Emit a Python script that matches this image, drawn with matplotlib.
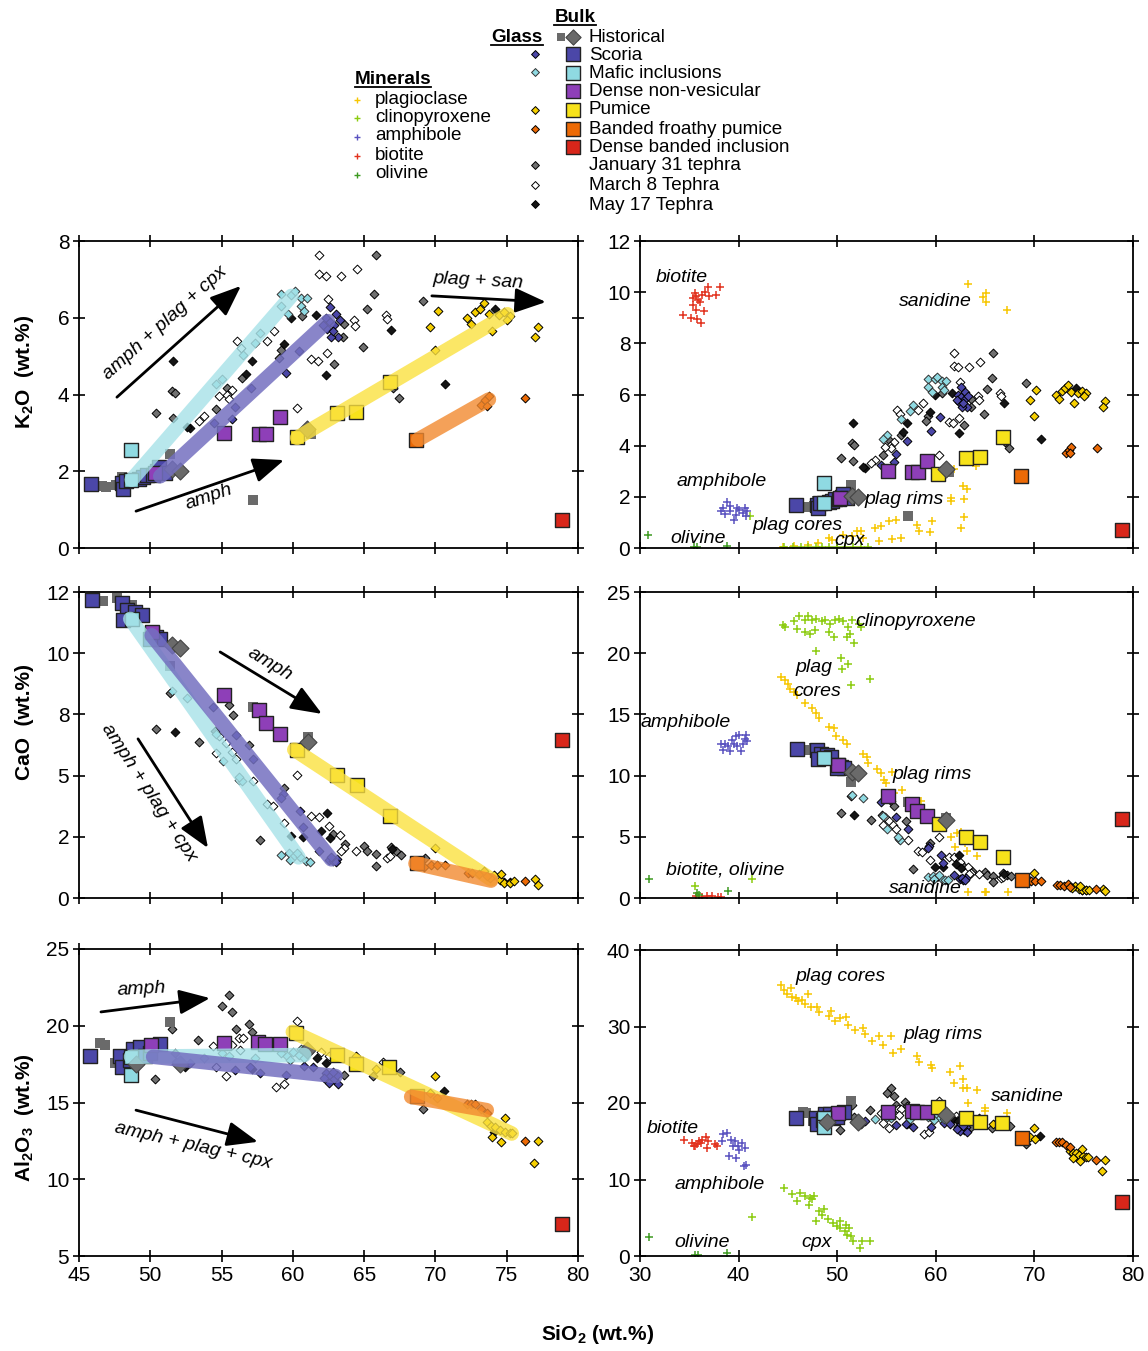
import matplotlib
matplotlib.use('Agg')
import matplotlib.pyplot as plt

plt.rcParams['font.family'] = ['Liberation Sans', 'DejaVu Sans']
plt.rcParams['mathtext.fontset'] = 'custom'
plt.rcParams['mathtext.rm'] = 'Liberation Sans'
plt.rcParams['mathtext.bf'] = 'Liberation Sans:bold'
plt.rcParams['mathtext.it'] = 'Liberation Sans:italic'

# ---------------- K2O data (SiO2, K2O) ----------------
k_scoria = [(45.87,1.67),(48.0,1.7),(48.06,1.55),(48.3,1.75),(49.2,1.8),(49.5,1.85),(49.8,1.9),(50.2,1.9),(50.5,2.0),(50.6,2.1),(51.0,1.95)]
k_mafic = [(48.65,2.56),(48.65,1.76)]
k_dense = [(50.3,1.95),(55.2,3.0),(57.6,2.96),(58.15,2.96),(59.1,3.41)]
k_pumice = [(60.27,2.9),(63.1,3.52),(64.46,3.55),(66.8,4.32)]
k_banded = [(68.65,2.82)]
k_dbi = [(78.88,0.72)]
k_hist_sq = [(46.6,1.62),(46.9,1.6),(47.6,1.65),(48.0,1.85),(51.35,2.45),(57.2,1.26),(61.3,2.96)]
k_hist_di = [(51.5,2.05),(52.1,2.0),(61.0,3.1)]
k_gl_scoria = [(60.46,5.13),(59.5,4.57),(57.05,4.17),(55.94,3.68),(55.75,3.37),(54.46,3.26),(62.58,6.28),(62.3,6.0),(62.6,5.9),(62.9,5.8),(63.0,6.1),(62.4,5.7),(63.2,5.5),(62.7,5.5),(62.1,5.8),(63.3,5.95),(62.8,5.65)]
k_gl_mafic = [(59.2,6.61),(59.9,6.6),(60.15,6.7),(60.6,6.52),(61.0,6.52),(60.6,6.3),(59.65,6.09),(60.8,6.17),(59.2,6.3),(57.7,5.6),(57.35,5.35),(56.5,5.04),(55.05,4.4),(54.6,4.28)]
k_gl_pumice = [(70.15,6.17),(69.6,5.77),(70.0,5.17),(72.2,6.0),(72.5,5.83),(72.8,6.15),(73.15,6.24),(73.4,6.39),(73.75,6.09),(74.0,5.65),(74.45,6.06),(74.8,6.15),(75.2,6.04),(75.0,5.95),(77.2,5.76),(76.95,5.5)]
k_gl_banded = [(73.2,3.72),(73.5,3.85),(73.75,3.96),(73.6,3.7),(76.3,3.9)]
k_gl_jan31 = [(65.8,7.63),(65.7,6.63),(65.2,6.23),(63.6,5.84),(63.55,5.5),(62.9,4.8),(64.9,5.23),(69.15,6.43),(67.0,4.16),(67.45,3.91),(60.65,6.04),(59.2,5.17),(59.05,4.96),(55.4,4.17),(54.6,3.63),(51.5,4.1),(51.75,4.04),(50.4,3.52),(51.56,3.39),(56.46,4.43)]
k_gl_mar8 = [(61.8,7.63),(61.8,7.13),(62.3,7.09),(63.35,7.09),(64.5,7.26),(62.45,6.48),(64.3,5.94),(64.35,5.78),(66.5,6.06),(66.6,5.96),(62.4,5.09),(61.3,4.93),(61.75,4.87),(60.3,3.65),(58.7,5.65),(58.2,5.39),(56.1,5.39),(56.35,5.22),(55.76,4.13),(55.4,4.0),(55.5,3.89),(53.8,3.45),(53.4,3.32),(54.84,3.95)]
k_gl_may17 = [(51.6,4.87),(57.1,4.87),(56.7,4.54),(52.8,3.13),(52.6,3.15),(59.4,5.32),(61.6,6.07),(59.9,6.0),(62.35,4.5),(66.9,5.68),(70.7,4.28),(74.2,6.24)]
k_band_mafic = [(48.7,1.78),(59.9,6.57)]
k_band_scoria = [(50.7,1.87),(62.46,5.91)]
k_band_pumice = [(60.3,2.87),(75.05,6.09)]
k_band_banded = [(68.8,2.83),(73.75,3.87)]
k_min_plag = [(44.5,0.04),(45.6,0.07),(47.0,0.13),(48.1,0.2),(49.2,0.39),(49.5,0.33),(50.6,0.52),(51.5,0.46),(52.0,0.65),(52.4,0.65),(52.6,0.39),(53.8,0.78),(54.4,0.85),(55.3,1.04),(56.0,1.1),(54.2,0.29),(55.55,0.36),(56.5,0.39),(58.1,0.89),(58.3,0.65),(59.4,0.61),(59.6,1.07),(61.5,1.95),(61.5,1.82),(61.8,3.09),(62.8,2.41),(63.2,2.32),(62.9,1.92),(62.9,1.2),(62.55,0.8),(64.1,3.19),(63.3,10.3),(64.8,9.8),(65.05,9.97),(65.05,9.6),(67.2,9.29)]
k_min_cpx = [(41.2,1.26),(44.6,0.03),(45.5,0.05),(46.3,0.02),(47.0,0.04),(47.8,0.03),(48.5,0.05),(49.2,0.02),(50.0,0.04),(50.8,0.03),(51.6,0.05),(52.4,0.02),(53.1,0.04)]
k_min_amph = [(38.85,1.78),(38.25,1.43),(38.6,1.33),(39.1,1.43),(39.7,1.3),(40.05,1.5),(40.4,1.37),(40.75,1.24),(39.5,1.1),(39.85,1.56),(39.1,1.63),(40.6,1.56),(38.4,1.56),(40.9,1.43)]
k_min_bio = [(34.4,9.1),(35.2,9.0),(35.8,8.96),(36.2,8.8),(35.55,9.97),(35.9,9.7),(36.3,9.9),(36.6,10.0),(36.9,10.2),(37.7,9.9),(38.1,10.2),(35.4,9.5),(35.7,9.3),(36.45,9.25),(36.1,9.6),(37.0,9.84),(35.4,9.77),(35.7,9.84)]
k_min_ol = [(30.8,0.52),(35.5,0.05),(35.8,0.05),(38.8,0.07)]

# ---------------- CaO data (SiO2, CaO) ----------------
c_scoria = [(45.94,12.19),(48.0,12.06),(48.4,11.76),(48.95,11.69),(49.4,11.56),(48.1,11.35),(50.1,10.83),(50.4,10.68),(50.7,10.6),(50.0,10.6)]
c_mafic = [(48.7,11.4)]
c_dense = [(50.1,10.88),(55.2,8.3),(57.6,7.67),(58.1,7.13),(59.1,6.68)]
c_pumice = [(60.3,6.06),(63.1,5.02),(64.5,4.61),(66.8,3.35)]
c_banded = [(68.7,1.45)]
c_dbi = [(78.9,6.44)]
c_hist_sq = [(46.7,12.12),(47.65,12.27),(48.7,11.96),(51.4,9.49),(57.2,7.82),(61.07,6.56)]
c_hist_di = [(51.5,10.33),(52.06,10.2),(61.07,6.38)]
c_gl_scoria = [(62.5,1.56),(62.8,1.51),(63.1,1.61),(62.7,1.67),(63.0,1.46),(59.3,4.23),(59.2,4.1),(60.7,2.88),(60.5,3.55),(57.2,5.66),(56.0,6.65),(54.4,7.82),(61.85,1.9)]
c_gl_mafic = [(59.2,1.74),(59.7,1.82),(60.1,1.73),(60.5,1.67),(60.9,1.51),(61.2,1.46),(59.8,1.56),(60.3,1.85),(56.4,4.77),(55.07,5.61),(52.6,8.17),(51.5,8.44),(54.6,6.68),(56.2,4.95)]
c_gl_pumice = [(70.0,2.06),(74.1,0.94),(74.5,0.73),(74.8,0.63),(75.2,0.63),(75.5,0.68),(73.8,0.83),(77.0,0.77),(77.2,0.54),(74.6,1.0)]
c_gl_banded = [(69.2,1.25),(69.7,1.35),(70.1,1.35),(70.7,1.35),(72.25,1.04),(72.6,1.04),(73.05,0.98),(73.4,1.11),(73.65,0.91),(76.25,0.71)]
c_gl_jan31 = [(51.4,8.36),(50.4,6.92),(53.4,6.37),(55.5,7.9),(55.8,7.49),(54.55,6.81),(56.95,6.27),(59.4,4.48),(57.7,2.36),(65.0,2.13),(65.2,1.9),(65.8,1.79),(65.85,1.3),(66.85,2.08),(67.2,1.9),(67.6,1.76),(69.3,1.63),(63.65,2.2),(62.8,2.6)]
c_gl_mar8 = [(54.8,6.6),(55.3,6.33),(55.7,5.97),(54.6,5.93),(56.0,5.66),(56.25,4.8),(57.2,4.77),(60.3,5.02),(58.2,3.82),(58.6,3.75),(59.4,3.08),(61.3,3.35),(61.8,3.31),(62.5,2.95),(63.3,2.57),(64.4,1.93),(66.6,1.63),(66.8,1.72),(63.6,2.06),(63.4,1.93)]
c_gl_may17 = [(51.7,6.78),(59.9,2.53),(60.7,2.5),(62.0,2.74),(62.4,3.49),(62.6,2.47),(66.95,1.99),(74.8,0.64),(75.2,0.64)]
c_band_mafic = [(48.6,11.4),(60.4,1.66)]
c_band_scoria = [(50.1,10.73),(62.7,1.58)]
c_band_pumice = [(60.1,6.06),(73.9,0.77)]
c_band_banded = [(68.6,1.41),(73.9,0.71)]
c_min_plag = [(44.3,18.07),(44.7,17.8),(45.05,17.5),(45.2,17.1),(45.6,16.85),(45.95,16.6),(46.7,15.9),(47.4,15.5),(47.9,15.1),(48.2,14.7),(49.2,14.0),(49.7,13.9),(49.9,13.2),(50.6,12.9),(50.95,12.6),(52.6,11.8),(53.0,11.5),(53.1,11.0),(54.0,10.5),(54.4,10.2),(54.7,9.65),(54.95,9.4),(55.6,10.3),(55.8,8.56),(56.6,8.8),(58.1,7.9),(58.3,7.2),(58.5,7.9),(59.6,6.4),(61.5,5.0),(61.9,4.2),(62.6,5.4),(62.95,4.5),(63.15,3.8),(64.2,3.45),(62.1,5.3),(63.3,0.46),(65.0,0.46),(65.1,0.46),(67.3,0.46)]
c_min_cpx = [(44.5,22.3),(44.7,22.1),(45.6,22.6),(46.1,23.0),(46.7,22.7),(47.0,23.0),(47.4,22.7),(47.9,22.8),(48.5,22.6),(48.8,22.7),(49.3,22.4),(49.8,22.7),(50.2,22.8),(50.6,22.6),(51.1,22.1),(51.5,22.7),(52.2,22.4),(52.4,22.1),(45.95,22.0),(46.7,21.7),(47.2,21.6),(47.7,21.9),(49.2,21.7),(49.7,21.3),(51.0,21.3),(51.3,21.6),(51.7,20.8),(47.8,20.2),(50.4,19.6),(50.5,18.75),(51.1,19.1),(51.4,17.4),(53.3,17.9),(35.55,0.95),(41.4,1.55)]
c_min_amph = [(38.2,12.6),(38.4,12.1),(38.95,12.4),(39.3,12.9),(39.7,13.2),(40.0,13.3),(40.6,13.0),(40.75,13.3),(40.9,12.8),(39.85,12.4),(40.2,12.0),(39.1,12.0),(39.5,12.6),(38.6,12.6),(40.4,12.6)]
c_min_bio = [(35.7,0.14),(36.3,0.08),(36.8,0.14),(37.35,0.14),(37.9,0.1),(38.2,0.1)]
c_min_ol = [(30.9,1.55),(35.8,0.4),(36.0,0.27),(38.9,0.6)]

# ---------------- Al2O3 data (SiO2, Al2O3) ----------------
a_scoria = [(45.8,18.0),(47.9,18.0),(48.0,17.3),(48.6,17.8),(48.8,18.5),(49.3,18.6),(49.6,18.0),(50.0,18.2),(50.7,18.8)]
a_mafic = [(48.65,17.98),(48.65,16.8)]
a_dense = [(50.06,18.74),(55.2,18.85),(57.55,18.96),(58.06,18.78),(59.1,18.78)]
a_pumice = [(60.25,19.5),(63.1,18.1),(64.46,17.54),(66.76,17.33)]
a_banded = [(68.7,15.4)]
a_dbi = [(78.9,7.07)]
a_hist_sq = [(46.5,18.85),(46.8,18.74),(47.5,17.6),(51.35,20.26)]
a_hist_di = [(49.0,17.5),(52.06,17.5),(61.0,18.4)]
a_gl_scoria = [(62.3,16.9),(62.6,16.7),(62.9,16.5),(63.1,16.8),(62.5,16.3),(62.8,17.0),(63.2,16.2),(62.2,16.6),(57.0,17.3),(57.7,16.9),(59.5,16.8),(60.8,17.4),(61.4,17.3),(55.95,17.1),(52.8,17.6)]
a_gl_mafic = [(59.2,18.2),(59.6,18.0),(60.0,18.3),(60.4,18.1),(60.8,17.9),(61.1,18.3),(59.8,17.8),(60.6,18.5),(55.0,18.2),(55.5,18.0),(57.35,17.9),(53.8,17.9)]
a_gl_pumice = [(64.4,18.0),(65.8,17.2),(69.6,15.6),(70.1,15.3),(70.0,16.7),(73.6,13.7),(73.9,13.5),(74.2,13.4),(74.5,13.2),(74.9,13.1),(75.2,13.0),(75.4,13.0),(74.85,14.0),(73.95,12.76),(74.6,12.4),(77.2,12.5),(76.9,11.07)]
a_gl_banded = [(72.2,14.9),(72.5,14.9),(72.8,14.87),(73.2,14.57),(73.6,14.3),(76.25,12.5)]
a_gl_jan31 = [(55.5,22.0),(55.0,21.3),(55.75,20.9),(56.9,20.1),(51.5,19.76),(56.0,19.76),(57.1,19.57),(53.35,19.1),(50.3,16.5),(51.8,17.65),(63.6,16.8),(65.65,16.7),(67.5,17.0),(69.1,14.6),(51.7,18.2),(59.2,18.7)]
a_gl_mar8 = [(60.3,20.3),(56.2,19.2),(56.5,19.2),(55.7,18.74),(54.4,18.7),(55.3,16.7),(58.8,16.0),(59.35,16.2),(54.6,17.33),(56.3,18.4),(66.3,17.65),(66.8,17.4),(62.0,18.3),(62.5,18.0)]
a_gl_may17 = [(52.45,17.3),(57.1,17.2),(61.7,17.9),(70.6,15.74),(62.3,17.6),(74.1,13.1)]
a_band_mafic = [(48.65,17.98),(60.8,18.09)]
a_band_scoria = [(50.2,17.98),(63.0,16.72)]
a_band_pumice = [(60.0,19.6),(75.35,12.98)]
a_band_banded = [(68.3,15.37),(73.6,14.5)]
a_min_plag = [(44.3,35.4),(44.6,34.8),(44.9,34.3),(45.3,35.0),(45.4,33.9),(45.8,33.7),(46.0,33.3),(46.4,33.5),(46.7,33.0),(47.0,34.3),(47.35,32.5),(48.0,32.6),(48.2,31.9),(49.2,31.4),(49.4,32.0),(49.8,30.7),(50.3,31.1),(50.9,31.2),(51.1,30.2),(51.8,29.6),(52.65,29.8),(52.8,29.0),(53.5,28.1),(54.2,28.8),(54.6,27.6),(55.5,28.7),(55.7,26.5),(56.5,27.0),(58.1,26.1),(58.3,25.4),(59.5,25.0),(59.65,24.6),(61.4,24.1),(61.85,22.6),(62.5,24.8),(62.8,23.1),(62.8,22.0),(63.2,22.0),(64.2,21.65),(63.3,20.0),(65.0,19.35),(65.0,18.9),(67.25,18.7)]
a_min_cpx = [(44.6,8.9),(45.4,8.1),(45.9,7.2),(46.2,8.26),(46.7,7.8),(47.2,7.6),(47.45,7.4),(47.6,7.8),(47.1,6.7),(47.9,4.6),(48.2,5.9),(48.5,5.4),(49.1,4.8),(49.6,4.35),(50.0,3.9),(50.3,3.7),(50.75,3.26),(51.2,3.7),(51.4,2.6),(51.6,1.96),(52.3,1.1),(52.5,1.96),(53.3,1.96),(50.3,4.6),(50.9,4.1),(51.0,2.8),(48.7,6.1),(41.4,5.1)]
a_min_amph = [(38.4,15.9),(38.85,16.1),(38.3,15.0),(39.2,15.2),(39.6,15.0),(39.9,14.35),(40.3,14.8),(40.6,14.1),(39.0,13.1),(39.75,12.8),(40.5,11.7),(40.8,11.95),(40.0,13.8),(39.4,14.35)]
a_min_bio = [(34.5,15.1),(35.3,14.8),(35.6,14.35),(35.95,15.0),(36.3,15.2),(36.7,15.5),(36.9,15.0),(35.8,14.6),(35.45,14.35),(36.8,14.1),(37.6,14.65),(37.8,14.35),(36.15,14.8)]
a_min_ol = [(30.9,2.5),(35.6,0.13),(35.9,0.13),(38.85,0.43)]

# ---------------- styles ----------------
C_SCORIA = '#4b47a8'
C_MAFIC = '#8fdae2'
C_DENSE = '#8e3fb8'
C_PUMICE = '#f7e21a'
C_BANDED = '#ec6a06'
C_DBI = '#d8261a'
C_HIST = '#6a6a6a'
C_GL_PUMICE = '#f6cf00'
C_PLAG = '#f7c600'
C_CPX = '#8ccc10'
C_AMPH = '#5a52c0'
C_BIO = '#e2321e'
C_OL = '#3d9a20'

fig = plt.figure(figsize=(11.48, 13.51), dpi=100)
W, H = 1148.0, 1351.0

def ax_px(x0, y0, x1, y1):
    return fig.add_axes([x0 / W, 1 - y1 / H, (x1 - x0) / W, (y1 - y0) / H])

axK = ax_px(79, 241, 578, 548)
axC = ax_px(79, 592, 578, 898)
axA = ax_px(79, 949, 578, 1256)
axKr = ax_px(640, 241, 1133, 548)
axCr = ax_px(640, 592, 1133, 898)
axAr = ax_px(640, 950, 1133, 1256)

def sc(ax, data, **kw):
    if data:
        xs = [p[0] for p in data]
        ys = [p[1] for p in data]
        ax.scatter(xs, ys, **kw)

def glass(ax, gs, gm, gp, gb, j, m, y):
    kw = dict(marker='D', s=20, linewidths=0.7, edgecolors='black', zorder=3)
    sc(ax, j, c='#707070', **kw)
    sc(ax, m, c='white', **kw)
    sc(ax, y, c='#151515', **kw)
    sc(ax, gs, c=C_SCORIA, **kw)
    sc(ax, gm, c=C_MAFIC, **dict(kw, edgecolors='#333333'))
    sc(ax, gp, c=C_GL_PUMICE, **kw)
    sc(ax, gb, c=C_BANDED, **kw)

def bulk(ax, s, mf, d, p, b, r, hs, hd):
    sc(ax, hs, c=C_HIST, marker='s', s=45, linewidths=0, zorder=4)
    kw = dict(marker='s', s=110, linewidths=1.0, edgecolors='#222222', zorder=5)
    sc(ax, s, c=C_SCORIA, **kw)
    sc(ax, d, c=C_DENSE, **kw)
    sc(ax, mf, c=C_MAFIC, **kw)
    sc(ax, p, c=C_PUMICE, **kw)
    sc(ax, b, c=C_BANDED, **kw)
    sc(ax, r, c=C_DBI, **kw)
    sc(ax, hd, c=C_HIST, marker='D', s=75, linewidths=0.8, edgecolors='#444444', zorder=5)

def bands(ax, bm, bs, bp, bb):
    for data, col, a in [(bm, '#a6e2e8', 0.8), (bs, '#7470c0', 0.85), (bp, '#fbe140', 0.8), (bb, '#f28a30', 0.8)]:
        ax.plot([q[0] for q in data], [q[1] for q in data], color=col, alpha=a, lw=10.5,
                solid_capstyle='round', zorder=6)

def minerals(ax, pl, cp, am, bi, ol):
    kw = dict(marker='+', s=30, linewidths=1.1, zorder=2)
    sc(ax, pl, c=C_PLAG, **kw)
    sc(ax, cp, c=C_CPX, **kw)
    sc(ax, am, c=C_AMPH, **kw)
    sc(ax, bi, c=C_BIO, **kw)
    sc(ax, ol, c=C_OL, **kw)

# K2O
for ax in (axK, axKr):
    glass(ax, k_gl_scoria, k_gl_mafic, k_gl_pumice, k_gl_banded, k_gl_jan31, k_gl_mar8, k_gl_may17)
    bulk(ax, k_scoria, k_mafic, k_dense, k_pumice, k_banded, k_dbi, k_hist_sq, k_hist_di)
bands(axK, k_band_mafic, k_band_scoria, k_band_pumice, k_band_banded)
minerals(axKr, k_min_plag, k_min_cpx, k_min_amph, k_min_bio, k_min_ol)
# CaO
for ax in (axC, axCr):
    glass(ax, c_gl_scoria, c_gl_mafic, c_gl_pumice, c_gl_banded, c_gl_jan31, c_gl_mar8, c_gl_may17)
    bulk(ax, c_scoria, c_mafic, c_dense, c_pumice, c_banded, c_dbi, c_hist_sq, c_hist_di)
bands(axC, c_band_mafic, c_band_scoria, c_band_pumice, c_band_banded)
minerals(axCr, c_min_plag, c_min_cpx, c_min_amph, c_min_bio, c_min_ol)
# Al2O3
for ax in (axA, axAr):
    glass(ax, a_gl_scoria, a_gl_mafic, a_gl_pumice, a_gl_banded, a_gl_jan31, a_gl_mar8, a_gl_may17)
    bulk(ax, a_scoria, a_mafic, a_dense, a_pumice, a_banded, a_dbi, a_hist_sq, a_hist_di)
bands(axA, a_band_mafic, a_band_scoria, a_band_pumice, a_band_banded)
minerals(axAr, a_min_plag, a_min_cpx, a_min_amph, a_min_bio, a_min_ol)

# axes formatting
left_x = [45, 50, 55, 60, 65, 70, 75, 80]
right_x = [30, 40, 50, 60, 70, 80]
for ax in (axK, axC, axA):
    ax.set_xlim(45, 80)
    ax.set_xticks(left_x)
for ax in (axKr, axCr, axAr):
    ax.set_xlim(30, 80)
    ax.set_xticks(right_x)
axK.set_ylim(0, 8); axK.set_yticks([0, 2, 4, 6, 8])
axC.set_ylim(0, 12.5); axC.set_yticks([0, 2.5, 5, 7.5, 10, 12.5])
axC.set_yticklabels(['0', '2', '5', '8', '10', '12'])
axA.set_ylim(5, 25); axA.set_yticks([5, 10, 15, 20, 25])
axKr.set_ylim(0, 12); axKr.set_yticks([0, 2, 4, 6, 8, 10, 12])
axCr.set_ylim(0, 25); axCr.set_yticks([0, 5, 10, 15, 20, 25])
axAr.set_ylim(0, 40); axAr.set_yticks([0, 10, 20, 30, 40])

for ax in (axK, axC, axA, axKr, axCr, axAr):
    ax.tick_params(direction='inout', length=8, width=1.2, top=True, right=True,
                   labelsize=15, pad=3)
    for sp in ax.spines.values():
        sp.set_linewidth(1.3)
    if ax not in (axA, axAr):
        ax.tick_params(labelbottom=False)

# annotations (italic)
ita = dict(fontsize=14, style='italic', ha='center', va='center', zorder=10)
arw = dict(arrowstyle='-|>,head_length=0.95,head_width=0.38', color='black', lw=2,
           mutation_scale=20, shrinkA=0, shrinkB=0)
axK.annotate('', xy=(56.36, 6.83), xytext=(47.66, 3.93), arrowprops=arw, zorder=10)
axK.text(51.03, 5.86, 'amph + plag + cpx', rotation=42, **ita)
axK.annotate('', xy=(77.75, 6.41), xytext=(69.75, 6.57), arrowprops=arw, zorder=10)
axK.text(73.0, 6.95, 'plag + san', rotation=-3, **ita)
axK.annotate('', xy=(59.38, 2.29), xytext=(49.0, 0.96), arrowprops=arw, zorder=10)
axK.text(54.1, 1.33, 'amph', rotation=19, **ita)

axC.annotate('', xy=(62.04, 7.52), xytext=(54.9, 10.05), arrowprops=arw, zorder=10)
axC.text(58.4, 9.56, 'amph', rotation=-31, **ita)
axC.annotate('', xy=(54.05, 2.04), xytext=(49.14, 6.5), arrowprops=arw, zorder=10)
axC.text(49.9, 4.3, 'amph + plag + cpx', rotation=-57, **ita)

axA.annotate('', xy=(54.19, 21.8), xytext=(46.54, 20.9), arrowprops=arw, zorder=10)
axA.text(49.4, 22.4, 'amph', rotation=3, **ita)
axA.annotate('', xy=(57.55, 12.44), xytext=(49.0, 14.5), arrowprops=arw, zorder=10)
axA.text(53.0, 12.2, 'amph + plag + cpx', rotation=-13, **ita)

for ax, items in [
    (axKr, [(34.26, 10.59, 'biotite'), (60.0, 9.65, 'sanidine'), (38.3, 2.58, 'amphibole'),
            (56.8, 1.91, 'plag rims'), (46.0, 0.86, 'plag cores'), (35.9, 0.39, 'olivine'),
            (51.3, 0.31, 'cpx')]),
    (axCr, [(58.0, 22.55, 'clinopyroxene'), (47.6, 18.8, 'plag'), (48.0, 16.9, 'cores'),
            (34.6, 14.3, 'amphibole'), (59.6, 10.05, 'plag rims'),
            (38.6, 2.29, 'biotite, olivine'), (58.9, 0.74, 'sanidine')]),
    (axAr, [(50.3, 36.6, 'plag cores'), (60.7, 28.9, 'plag rims'), (69.25, 20.8, 'sanidine'),
            (33.35, 16.7, 'biotite'), (38.1, 9.3, 'amphibole'), (36.3, 1.7, 'olivine'),
            (47.95, 1.7, 'cpx')]),
]:
    for x, y, t in items:
        ax.text(x, y, t, **ita)

# axis labels
lab = dict(fontsize=15, fontweight='bold', rotation=90, ha='center', va='center')
fig.text(25 / W, 1 - 372 / H, r'K$_{\mathbf{2}}$O  (wt.%)', **lab)
fig.text(25 / W, 1 - 722 / H, 'CaO  (wt.%)', **lab)
fig.text(25 / W, 1 - 1118 / H, r'Al$_{\mathbf{2}}$O$_{\mathbf{3}}$  (wt.%)', **lab)
fig.text(598 / W, 1 - 1335 / H, r'SiO$_{\mathbf{2}}$ (wt.%)', fontsize=15,
         fontweight='bold', ha='center', va='center')

# ---------------- legend (drawn in pixel space) ----------------
lg = fig.add_axes([0, 0, 1, 1])
lg.set_xlim(0, W); lg.set_ylim(H, 0); lg.axis('off')
lg.patch.set_alpha(0)

LFS = 13.6
titles = []
titles.append(lg.text(575, 17, 'Bulk', fontsize=LFS, fontweight='bold', ha='center', va='center'))
titles.append(lg.text(517, 37, 'Glass', fontsize=LFS, fontweight='bold', ha='center', va='center'))
titles.append(lg.text(393, 79, 'Minerals', fontsize=LFS, fontweight='bold', ha='center', va='center'))

min_names = ['plagioclase', 'clinopyroxene', 'amphibole', 'biotite', 'olivine']
min_cols = [C_PLAG, C_CPX, C_AMPH, C_BIO, C_OL]
min_rows = [99, 117, 136, 155, 174]
for n, c, yy in zip(min_names, min_cols, min_rows):
    lg.scatter([357], [yy + 1], marker='+', s=22, c=c, linewidths=1.0)
    lg.text(375, yy, n, fontsize=LFS, ha='left', va='center')

bulk_names = ['Historical', 'Scoria', 'Mafic inclusions', 'Dense non-vesicular', 'Pumice',
              'Banded froathy pumice', 'Dense banded inclusion', 'January 31 tephra',
              'March 8 Tephra', 'May 17 Tephra']
bulk_rows = [37, 55, 73, 92, 110, 129, 147, 166, 185, 205]
for n, yy in zip(bulk_names, bulk_rows):
    lg.text(589, yy, n, fontsize=LFS, ha='left', va='center')

lg.scatter([561], [37], marker='s', s=26, c=C_HIST, linewidths=0)
lg.scatter([573], [37], marker='D', s=60, c=C_HIST, edgecolors='#444444', linewidths=0.8)
for col, yy in zip([C_SCORIA, C_MAFIC, C_DENSE, C_PUMICE, C_BANDED, C_DBI], [54, 73, 91, 110, 129, 147]):
    lg.scatter([573], [yy], marker='s', s=90, c=col, edgecolors='#222222', linewidths=1.0)
for col, ec, yy in zip([C_SCORIA, C_MAFIC, C_GL_PUMICE, C_BANDED, '#707070', 'white', '#151515'],
                       ['black', '#333333', 'black', 'black', 'black', 'black', 'black'],
                       [54, 72, 110, 129, 165, 185, 204]):
    lg.scatter([535], [yy], marker='D', s=16, c=col, edgecolors=ec, linewidths=0.7)

fig.canvas.draw()
rend = fig.canvas.get_renderer()
inv = lg.transData.inverted()
for t in titles:
    bb = t.get_window_extent(renderer=rend)
    (x0, y0), (x1, y1) = inv.transform([(bb.x0, bb.y0), (bb.x1, bb.y1)])
    ybase = max(y0, y1) - 1
    lg.plot([x0, x1], [ybase, ybase], color='black', lw=1.3)

fig.savefig('out.png', dpi=100)
